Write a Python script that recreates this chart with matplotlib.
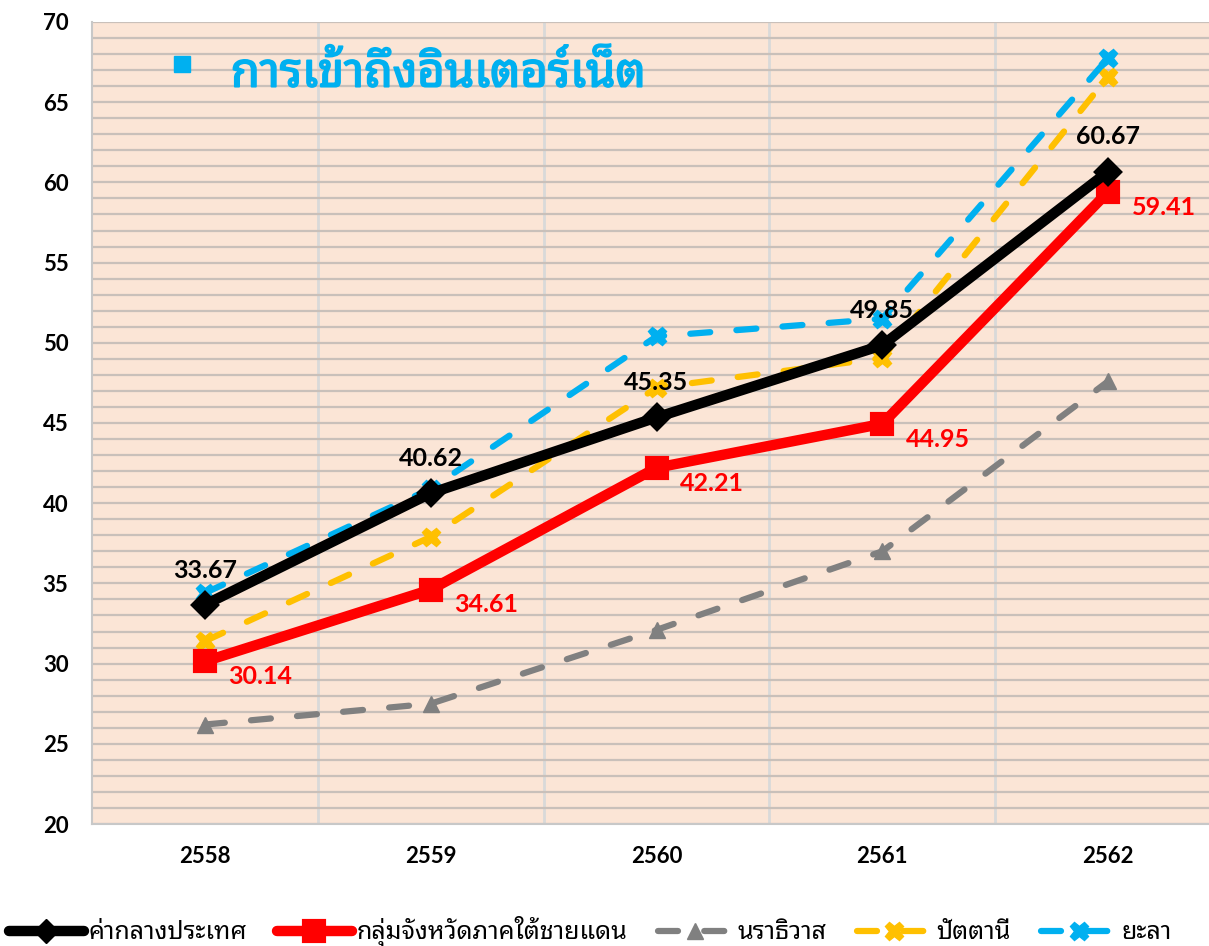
import matplotlib
matplotlib.use("Agg")
import matplotlib.pyplot as plt
import matplotlib.patheffects as pe
from matplotlib import font_manager
from matplotlib.lines import Line2D
import numpy as np

# data
years = ["2558", "2559", "2560", "2561", "2562"]
national = [33.67, 40.62, 45.35, 49.85, 60.67]
south_border = [30.14, 34.61, 42.21, 44.95, 59.41]
narathiwat = [26.2, 27.5, 32.1, 37.0, 47.6]
pattani = [31.4, 37.9, 47.2, 49.05, 66.6]
yala = [34.4, 40.9, 50.4, 51.5, 67.75]

series_names = ["ค่ากลางประเทศ", "กลุ่มจังหวัดภาคใต้ชายแดน", "นราธิวาส", "ปัตตานี", "ยะลา"]
title = "การเข้าถึงอินเตอร์เน็ต"

# pick a Thai font that is actually installed
installed = {f.name for f in font_manager.fontManager.ttflist}
thai_font = "DejaVu Sans"
for name in ["Noto Sans Thai Looped", "IBM Plex Sans Thai Looped", "Noto Sans Thai",
             "IBM Plex Sans Thai", "Sarabun", "Anuphan"]:
    if name in installed:
        thai_font = name
        break
num_font = "Lato" if "Lato" in installed else "DejaVu Sans"

BLACK = "#000000"
RED = "#FF0000"
GREY = "#808080"
GOLD = "#FFC000"
BLUE = "#00B0F0"

fig = plt.figure(figsize=(12.09, 9.46), dpi=100)
ax = fig.add_axes([92 / 1209, 122 / 946, 1129 / 1209, 802 / 946])
ax.set_facecolor("#FBE5D6")

x = np.arange(len(years))

dash = (3.2, 4.2)
ax.plot(x, narathiwat, color=GREY, lw=4.5, dashes=dash, dash_capstyle="round",
        marker="^", ms=12, mec=GREY, mfc=GREY, zorder=3)
ax.plot(x, pattani, color=GOLD, lw=4.5, dashes=dash, dash_capstyle="round",
        marker="X", ms=13, mec=GOLD, mfc=GOLD, zorder=3)
ax.plot(x, yala, color=BLUE, lw=4.5, dashes=dash, dash_capstyle="round",
        marker="X", ms=13, mec=BLUE, mfc=BLUE, zorder=4)
ax.plot(x, south_border, color=RED, lw=7.5, solid_capstyle="round", solid_joinstyle="round",
        marker="s", ms=14, mec=RED, mfc=RED, mew=3, zorder=5)
ax.plot(x, national, color=BLACK, lw=7.5, solid_capstyle="round", solid_joinstyle="round",
        marker="D", ms=12, mec=BLACK, mfc=BLACK, mew=3, zorder=6)

for xi, v in zip(x, national):
    ax.annotate("%.2f" % v, (xi, v), xytext=(0, 25), textcoords="offset points",
                ha="center", va="center", fontsize=18, fontweight="bold",
                family=num_font, color=BLACK, zorder=7)
for xi, v in zip(x, south_border):
    ax.annotate("%.2f" % v, (xi, v), xytext=(40, -11), textcoords="offset points",
                ha="center", va="center", fontsize=18, fontweight="bold",
                family=num_font, color=RED, zorder=7)

ax.set_xlim(-0.5, len(years) - 0.5)
ax.set_ylim(20, 70)
ax.set_yticks(np.arange(20, 71, 5))
ax.set_yticks(np.arange(20, 71, 1), minor=True)
ax.set_xticks(x)
ax.set_xticklabels(years)
ax.set_xticks(np.arange(0.5, len(years) - 0.5, 1), minor=True)

ax.grid(which="both", axis="y", color="#C9C0BA", lw=1.6, zorder=1)
ax.grid(which="minor", axis="x", color="#D9D9D9", lw=2, zorder=1)
ax.set_axisbelow(True)
ax.tick_params(which="both", length=0)
ax.tick_params(axis="y", pad=17)
ax.tick_params(axis="x", pad=16)
for lab in ax.get_xticklabels() + ax.get_yticklabels():
    lab.set_family(num_font)
    lab.set_fontweight("bold")
    lab.set_fontsize(16)
for side in ["top", "right"]:
    ax.spines[side].set_visible(False)
for side in ["left", "bottom"]:
    ax.spines[side].set_color("#C8C8C8")
    ax.spines[side].set_linewidth(1.5)

# title with bullet square inside the plot
ax.plot([0.0797], [0.9476], transform=ax.transAxes, marker="s", ms=11, color=BLUE,
        clip_on=False, zorder=8)
ax.text(0.123, 0.935, title, transform=ax.transAxes, ha="left", va="center",
        fontsize=34, color=BLUE, family=[thai_font, "DejaVu Sans"], zorder=8,
        path_effects=[pe.withStroke(linewidth=1.3, foreground=BLUE)])

handles = [
    Line2D([], [], color=BLACK, lw=7.5, marker="D", ms=12, solid_capstyle="round"),
    Line2D([], [], color=RED, lw=7.5, marker="s", ms=14, mew=3, solid_capstyle="round"),
    Line2D([], [], color=GREY, lw=4.5, dashes=dash, dash_capstyle="round", marker="^", ms=12),
    Line2D([], [], color=GOLD, lw=4.5, dashes=dash, dash_capstyle="round", marker="X", ms=13),
    Line2D([], [], color=BLUE, lw=4.5, dashes=dash, dash_capstyle="round", marker="X", ms=13),
]
leg = fig.legend(handles, series_names, loc="center", bbox_to_anchor=(0.488, 0.015),
                 ncol=5, frameon=False, handlelength=3.0, handletextpad=0.2,
                 columnspacing=1.2,
                 prop={"family": [thai_font, "DejaVu Sans"], "size": 18, "weight": "medium"})

fig.savefig("out.png", dpi=100)
